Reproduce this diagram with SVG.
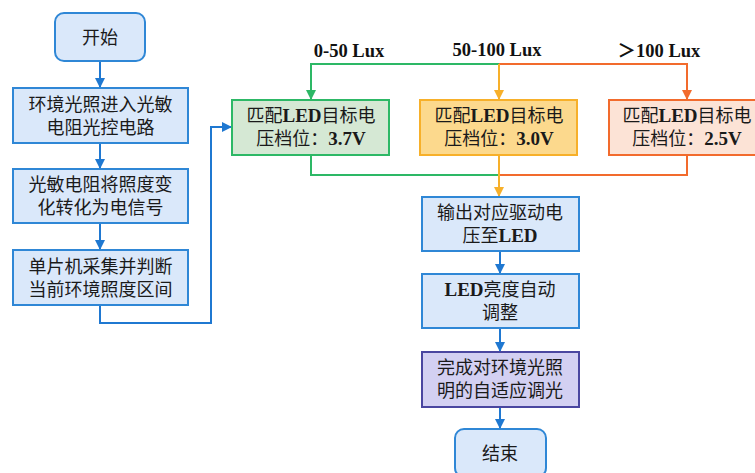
<svg xmlns="http://www.w3.org/2000/svg" width="755" height="473" viewBox="0 0 755 473">
<defs>
<style>
.cn{font-family:"Noto Sans CJK SC","Liberation Sans",sans-serif;font-size:18px;fill:#1a1a1a;text-anchor:middle}
.b{font-family:"Liberation Serif",serif;font-weight:bold;font-size:19px}
.lbl{font-family:"Liberation Serif","Noto Sans CJK SC",serif;font-weight:bold;font-size:18.5px;fill:#111;text-anchor:middle}
.blue{fill:#dae8fa;stroke:#2f87d6;stroke-width:2}
.line{fill:none;stroke-width:2}
</style>
<marker id="ab" viewBox="0 0 10 10" refX="9" refY="5" markerWidth="5" markerHeight="5" orient="auto"><path d="M0,0L10,5L0,10z" fill="#1f78d1"/></marker>
<marker id="ay" viewBox="0 0 10 10" refX="9" refY="5" markerWidth="5" markerHeight="5" orient="auto"><path d="M0,0L10,5L0,10z" fill="#f7b02a"/></marker>
<marker id="ag" viewBox="0 0 10 10" refX="9" refY="5" markerWidth="5" markerHeight="5" orient="auto"><path d="M0,0L10,5L0,10z" fill="#2db866"/></marker>
<marker id="ao" viewBox="0 0 10 10" refX="9" refY="5" markerWidth="5" markerHeight="5" orient="auto"><path d="M0,0L10,5L0,10z" fill="#f26b2d"/></marker>
</defs>
<rect width="755" height="473" fill="#ffffff"/>
<g id="connectors">
<path class="line" stroke="#1f78d1" d="M100,61V87" marker-end="url(#ab)"/>
<path class="line" stroke="#1f78d1" d="M100,143V168" marker-end="url(#ab)"/>
<path class="line" stroke="#1f78d1" d="M100,223V249" marker-end="url(#ab)"/>
<path class="line" stroke="#1f78d1" d="M100,305V323H211V127H231" marker-end="url(#ab)"/>
<path class="line" stroke="#2db866" d="M499,64H311V99" marker-end="url(#ag)"/>
<path class="line" stroke="#f26b2d" d="M499,64H687V99" marker-end="url(#ao)"/>
<path class="line" stroke="#f7b02a" d="M499,64V99" marker-end="url(#ay)"/>
<path class="line" stroke="#2db866" d="M311,155V175H499"/>
<path class="line" stroke="#f26b2d" d="M687,155V175H499"/>
<path class="line" stroke="#f7b02a" d="M499,155V196" marker-end="url(#ay)"/>
<path class="line" stroke="#1f78d1" d="M500,251V273" marker-end="url(#ab)"/>
<path class="line" stroke="#1f78d1" d="M500,328V351" marker-end="url(#ab)"/>
<path class="line" stroke="#1f78d1" d="M500,407V428" marker-end="url(#ab)"/>
</g>
<g id="labels">
<text class="lbl" x="349" y="57">0-50 Lux</text>
<text class="lbl" x="497" y="56">50-100 Lux</text>
<text class="lbl" x="659" y="57">＞100 Lux</text>
</g>
<g id="start"><rect class="blue" x="55" y="13" width="90" height="48" rx="9"/><text class="cn" x="100" y="44">开始</text></g>
<g id="n1"><rect class="blue" x="13" y="88" width="175" height="55"/><text class="cn" x="100.5" y="111">环境光照进入光敏</text><text class="cn" x="100.5" y="134">电阻光控电路</text></g>
<g id="n2"><rect class="blue" x="13" y="169" width="175" height="54"/><text class="cn" x="100.5" y="191">光敏电阻将照度变</text><text class="cn" x="100.5" y="214">化转化为电信号</text></g>
<g id="n3"><rect class="blue" x="13" y="250" width="175" height="55"/><text class="cn" x="100.5" y="273">单片机采集并判断</text><text class="cn" x="100.5" y="296">当前环境照度区间</text></g>
<g id="g1"><rect x="232" y="100" width="157" height="55" fill="#d5e8d4" stroke="#2db866" stroke-width="2"/><text class="cn" x="311" y="122">匹配<tspan class="b">LED</tspan>目标电</text><text class="cn" x="311" y="145">压档位：<tspan class="b">3.7V</tspan></text></g>
<g id="g2"><rect x="420" y="100" width="157" height="55" fill="#fcd98d" stroke="#f7b02a" stroke-width="2"/><text class="cn" x="499" y="122">匹配<tspan class="b">LED</tspan>目标电</text><text class="cn" x="499" y="145">压档位：<tspan class="b">3.0V</tspan></text></g>
<g id="g3"><rect x="609" y="100" width="157" height="55" fill="#fce3d6" stroke="#f26b2d" stroke-width="2"/><text class="cn" x="687" y="122">匹配<tspan class="b">LED</tspan>目标电</text><text class="cn" x="687" y="145">压档位：<tspan class="b">2.5V</tspan></text></g>
<g id="n4"><rect class="blue" x="422" y="197" width="157" height="54"/><text class="cn" x="500" y="219">输出对应驱动电</text><text class="cn" x="500" y="242">压至<tspan class="b">LED</tspan></text></g>
<g id="n5"><rect class="blue" x="422" y="274" width="157" height="54"/><text class="cn" x="500" y="296"><tspan class="b">LED</tspan>亮度自动</text><text class="cn" x="500" y="319">调整</text></g>
<g id="n6"><rect x="422" y="352" width="157" height="55" fill="#d3d0f2" stroke="#4a46a0" stroke-width="2"/><text class="cn" x="500" y="374">完成对环境光照</text><text class="cn" x="500" y="397">明的自适应调光</text></g>
<g id="end"><rect class="blue" x="455" y="429" width="91" height="48" rx="9"/><text class="cn" x="500" y="460">结束</text></g>
</svg>
